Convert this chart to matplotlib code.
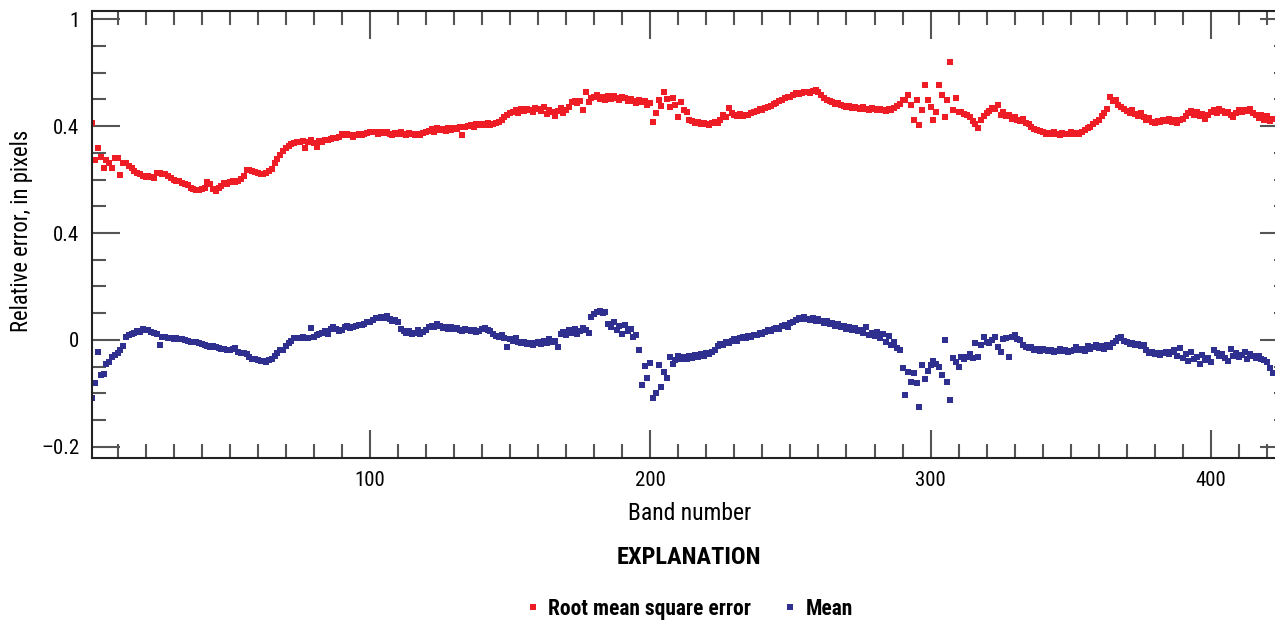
import matplotlib
matplotlib.use("Agg")
import matplotlib.pyplot as plt
from matplotlib.ticker import FixedLocator, MultipleLocator, FixedFormatter

plt.rcParams['font.family'] = ['Roboto Condensed', 'IBM Plex Sans Condensed', 'DejaVu Sans']

# per-band values, band 1 .. 422
rmse = [
    0.405, 0.336, 0.359, 0.342, 0.321, 0.336, 0.331, 0.321, 0.340, 0.340,
    0.308, 0.331, 0.330, 0.326, 0.321, 0.316, 0.313, 0.310, 0.307, 0.304,
    0.306, 0.305, 0.303, 0.312, 0.313, 0.311, 0.310, 0.306, 0.302, 0.300,
    0.298, 0.297, 0.294, 0.291, 0.289, 0.285, 0.283, 0.281, 0.280, 0.282,
    0.284, 0.295, 0.292, 0.283, 0.279, 0.284, 0.287, 0.293, 0.291, 0.295,
    0.298, 0.296, 0.298, 0.301, 0.307, 0.318, 0.317, 0.316, 0.314, 0.313,
    0.311, 0.310, 0.313, 0.316, 0.320, 0.330, 0.338, 0.346, 0.353, 0.359,
    0.363, 0.366, 0.369, 0.371, 0.370, 0.372, 0.358, 0.371, 0.373, 0.368,
    0.360, 0.372, 0.371, 0.373, 0.374, 0.375, 0.377, 0.378, 0.380, 0.385,
    0.383, 0.385, 0.384, 0.380, 0.383, 0.386, 0.384, 0.385, 0.387, 0.388,
    0.389, 0.388, 0.386, 0.388, 0.387, 0.389, 0.386, 0.384, 0.387, 0.385,
    0.388, 0.386, 0.384, 0.387, 0.385, 0.383, 0.386, 0.384, 0.387, 0.389,
    0.391, 0.394, 0.389, 0.396, 0.392, 0.395, 0.390, 0.397, 0.393, 0.396,
    0.394, 0.398, 0.383, 0.398, 0.400, 0.402, 0.399, 0.403, 0.401, 0.404,
    0.402, 0.405, 0.401, 0.404, 0.406, 0.408, 0.412, 0.416, 0.421, 0.424,
    0.426, 0.429, 0.425, 0.431, 0.428, 0.432, 0.430, 0.427, 0.433, 0.431,
    0.428, 0.435, 0.422, 0.430, 0.426, 0.419, 0.428, 0.433, 0.424, 0.430,
    0.436, 0.444, 0.446, 0.443, 0.447, 0.429, 0.464, 0.445, 0.452, 0.455,
    0.458, 0.450, 0.454, 0.448, 0.456, 0.451, 0.457, 0.453, 0.449, 0.455,
    0.452, 0.447, 0.450, 0.446, 0.443, 0.448, 0.444, 0.446, 0.440, 0.443,
    0.407, 0.424, 0.449, 0.438, 0.464, 0.450, 0.436, 0.452, 0.440, 0.417,
    0.445, 0.430, 0.426, 0.412, 0.409, 0.405, 0.407, 0.403, 0.406, 0.404,
    0.402, 0.405, 0.408, 0.406, 0.411, 0.420, 0.416, 0.434, 0.424, 0.421,
    0.419, 0.422, 0.418, 0.421, 0.420, 0.424, 0.426, 0.428, 0.431, 0.430,
    0.434, 0.436, 0.438, 0.441, 0.443, 0.446, 0.449, 0.452, 0.455, 0.454,
    0.458, 0.461, 0.460, 0.462, 0.464, 0.463, 0.461, 0.465, 0.467, 0.463,
    0.458, 0.452, 0.449, 0.446, 0.444, 0.441, 0.443, 0.440, 0.438, 0.436,
    0.437, 0.433, 0.436, 0.434, 0.431, 0.435, 0.432, 0.430, 0.433, 0.431,
    0.429, 0.432, 0.430, 0.428, 0.431, 0.429, 0.433, 0.437, 0.442, 0.449,
    0.449, 0.458, 0.440, 0.411, 0.449, 0.402, 0.430, 0.477, 0.449, 0.435,
    0.411, 0.426, 0.477, 0.458, 0.417, 0.449, 0.520, 0.430, 0.452, 0.426,
    0.426, 0.423, 0.420, 0.417, 0.410, 0.404, 0.397, 0.411, 0.418, 0.424,
    0.428, 0.434, 0.431, 0.439, 0.421, 0.426, 0.418, 0.420, 0.414, 0.417,
    0.411, 0.409, 0.413, 0.406, 0.404, 0.398, 0.395, 0.392, 0.390, 0.388,
    0.386, 0.387, 0.385, 0.388, 0.386, 0.384, 0.387, 0.385, 0.386, 0.388,
    0.385, 0.387, 0.386, 0.389, 0.393, 0.396, 0.399, 0.403, 0.408, 0.412,
    0.418, 0.424, 0.432, 0.454, 0.446, 0.449, 0.440, 0.436, 0.432, 0.428,
    0.425, 0.430, 0.422, 0.419, 0.424, 0.417, 0.412, 0.415, 0.408, 0.405,
    0.410, 0.407, 0.412, 0.409, 0.413, 0.408, 0.411, 0.406, 0.412, 0.414,
    0.418, 0.424, 0.428, 0.421, 0.426, 0.419, 0.423, 0.414, 0.420, 0.426,
    0.430, 0.425, 0.432, 0.428, 0.424, 0.427, 0.421, 0.416, 0.425, 0.429,
    0.426, 0.430, 0.428, 0.432, 0.424, 0.420, 0.415, 0.421, 0.412, 0.418,
    0.409, 0.414,
]

mean = [
    -0.108, -0.080, -0.022, -0.065, -0.063, -0.045, -0.041, -0.032, -0.028, -0.024,
    -0.019, -0.011, 0.005, 0.009, 0.012, 0.014, 0.016, 0.015, 0.020, 0.019,
    0.018, 0.015, 0.013, 0.011, -0.009, 0.006, 0.005, 0.004, 0.003, 0.002,
    0.003, 0.001, 0.002, 0.000, -0.002, -0.003, -0.004, -0.004, -0.006, -0.007,
    -0.009, -0.011, -0.013, -0.012, -0.014, -0.015, -0.016, -0.016, -0.018, -0.019,
    -0.017, -0.015, -0.022, -0.024, -0.025, -0.026, -0.031, -0.035, -0.036, -0.037,
    -0.039, -0.040, -0.041, -0.038, -0.036, -0.030, -0.025, -0.019, -0.019, -0.012,
    -0.005, -0.002, 0.003, 0.004, 0.003, 0.005, 0.004, 0.004, 0.022, 0.006,
    0.009, 0.012, 0.014, 0.016, 0.012, 0.020, 0.024, 0.020, 0.016, 0.018,
    0.024, 0.026, 0.022, 0.024, 0.026, 0.028, 0.028, 0.030, 0.033, 0.034,
    0.037, 0.041, 0.042, 0.043, 0.041, 0.044, 0.040, 0.036, 0.038, 0.033,
    0.021, 0.017, 0.013, 0.016, 0.012, 0.014, 0.018, 0.011, 0.015, 0.019,
    0.024, 0.027, 0.025, 0.029, 0.026, 0.022, 0.025, 0.021, 0.024, 0.020,
    0.022, 0.019, 0.017, 0.020, 0.018, 0.016, 0.019, 0.015, 0.017, 0.021,
    0.023, 0.019, 0.016, 0.012, 0.008, 0.006, 0.009, 0.004, -0.013, 0.001,
    -0.002, 0.003, -0.004, -0.006, -0.003, -0.008, -0.005, -0.009, -0.006, -0.004,
    -0.007, -0.002, -0.005, 0.002, -0.003, -0.001, -0.014, 0.012, 0.015, 0.009,
    0.018, 0.014, 0.021, 0.011, 0.016, 0.023, 0.019, 0.013, 0.043, 0.048,
    0.053, 0.055, 0.051, 0.052, 0.030, 0.024, 0.033, 0.019, 0.027, 0.011,
    0.028, 0.016, 0.021, 0.006, 0.010, -0.019, -0.084, -0.049, -0.071, -0.043,
    -0.108, -0.100, -0.046, -0.087, -0.059, -0.071, -0.032, -0.044, -0.037, -0.030,
    -0.036, -0.032, -0.035, -0.030, -0.033, -0.028, -0.031, -0.027, -0.029, -0.025,
    -0.026, -0.022, -0.018, -0.012, -0.008, -0.010, -0.004, -0.006, -0.002, 0.001,
    -0.001, 0.003, 0.005, 0.004, 0.008, 0.006, 0.010, 0.009, 0.013, 0.011,
    0.015, 0.018, 0.016, 0.020, 0.023, 0.021, 0.026, 0.028, 0.025, 0.031,
    0.034, 0.037, 0.041, 0.039, 0.043, 0.040, 0.038, 0.042, 0.036, 0.039,
    0.035, 0.032, 0.036, 0.029, 0.031, 0.026, 0.030, 0.024, 0.027, 0.021,
    0.025, 0.018, 0.022, 0.016, 0.019, 0.013, 0.024, 0.010, 0.014, 0.007,
    0.015, 0.004, 0.011, -0.004, 0.008, -0.010, -0.003, -0.015, -0.019, -0.053,
    -0.103, -0.059, -0.078, -0.062, -0.081, -0.125, -0.047, -0.072, -0.058, -0.047,
    -0.039, -0.044, -0.050, -0.065, 0.000, -0.078, -0.112, -0.034, -0.042, -0.050,
    -0.031, -0.036, -0.031, -0.027, -0.034, -0.006, -0.032, -0.009, 0.006, -0.004,
    -0.006, 0.000, 0.006, -0.013, -0.022, 0.001, 0.004, -0.032, 0.006, 0.009,
    0.002, 0.000, -0.009, -0.013, -0.015, -0.014, -0.018, -0.016, -0.020, -0.017,
    -0.019, -0.021, -0.018, -0.022, -0.020, -0.017, -0.021, -0.019, -0.023, -0.020,
    -0.018, -0.014, -0.019, -0.016, -0.021, -0.012, -0.017, -0.013, -0.010, -0.015,
    -0.011, -0.016, -0.009, -0.014, -0.005, -0.002, 0.003, 0.006, -0.001, -0.004,
    -0.008, -0.006, -0.010, -0.007, -0.012, -0.009, -0.019, -0.024, -0.022, -0.026,
    -0.024, -0.028, -0.025, -0.022, -0.027, -0.023, -0.019, -0.030, -0.015, -0.034,
    -0.027, -0.040, -0.022, -0.036, -0.031, -0.045, -0.028, -0.038, -0.033, -0.041,
    -0.019, -0.025, -0.030, -0.027, -0.033, -0.040, -0.016, -0.029, -0.024, -0.031,
    -0.028, -0.022, -0.035, -0.026, -0.030, -0.033, -0.029, -0.036, -0.038, -0.041,
    -0.052, -0.062,
]

bands = list(range(1, len(rmse) + 1))

y_ticks = [-0.2, 0.0, 0.2, 0.4, 0.6]
y_labels = ['\u20130.2', '0', '0.4', '0.4', '1']
x_ticks = [100, 200, 300, 400]

red = '#ee1c25'
blue = '#2e2f8f'

fig = plt.figure(figsize=(12.75, 6.21), dpi=100)
ax = fig.add_axes([92 / 1275, 1 - 458 / 621, 1196 / 1275, 447 / 621])

h1, = ax.plot(bands, rmse, ls='none', marker='s', ms=3.7, mew=0, color=red,
              label='Root mean square error')
h2, = ax.plot(bands, mean, ls='none', marker='s', ms=3.7, mew=0, color=blue,
              label='Mean')

ax.set_xlim(0.86, 427.5)
ax.set_ylim(-0.2206, 0.615)

ax.xaxis.set_major_locator(FixedLocator(x_ticks))
ax.xaxis.set_minor_locator(MultipleLocator(10))
ax.yaxis.set_major_locator(FixedLocator(y_ticks))
ax.yaxis.set_major_formatter(FixedFormatter(y_labels))
ax.yaxis.set_minor_locator(MultipleLocator(0.05))

ax.tick_params(which='both', direction='in', top=True, right=True,
               color='#555555', width=1.5)
ax.tick_params(which='major', length=20.5, labelsize=15, pad=9)
ax.tick_params(which='minor', length=10)
ax.tick_params(axis='x', which='major', pad=9)

for side in ['left', 'top', 'bottom']:
    ax.spines[side].set_linewidth(1.5)
    ax.spines[side].set_color('#222222')
ax.spines['right'].set_visible(False)

ax.set_xlabel('Band number', fontsize=17, labelpad=9)
fig.text(22 / 1275, 1 - 231 / 621, 'Relative error, in pixels', rotation=90,
         ha='center', va='center', fontsize=16.3)

fig.text(689 / 1275, 1 - 557 / 621, 'EXPLANATION', ha='center', va='center',
         fontsize=17.6, fontweight='bold')
fig.legend(handles=[h1, h2], loc='center', bbox_to_anchor=(690 / 1275, 1 - 609 / 621),
           ncol=2, frameon=False, prop={'weight': 'bold', 'size': 15.5},
           markerscale=1.1, handlelength=0.5, handletextpad=0.45,
           columnspacing=1.6)

fig.savefig('out.png', dpi=100)
